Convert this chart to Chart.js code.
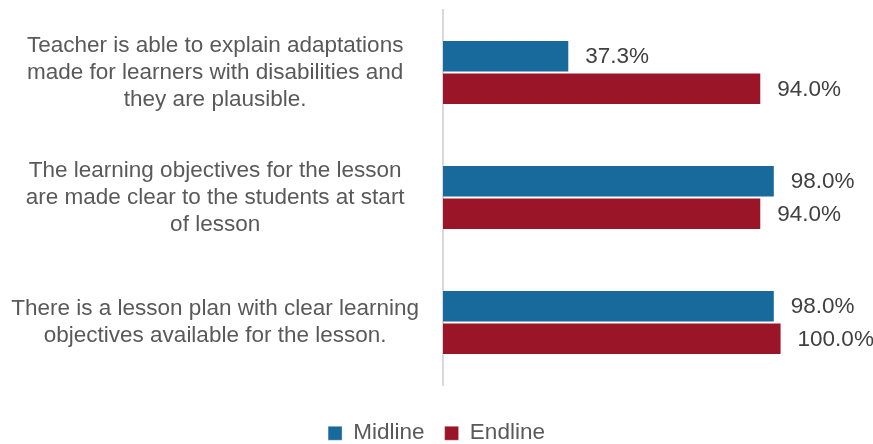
<!DOCTYPE html>
<html>
<head>
<meta charset="utf-8">
<script src="https://cdn.jsdelivr.net/npm/chart.js@4"></script>
<style>
  html, body { margin: 0; padding: 0; background: #fff; }
  #wrap { width: 873px; height: 444px; }
</style>
</head>
<body>
<div id="wrap"><canvas id="indicatorChart"></canvas></div>
<script>
const categories = [
    ['Teacher is able to explain adaptations', 'made for learners with disabilities and', 'they are plausible.'],
    ['The learning objectives for the lesson', 'are made clear to the students at start', 'of lesson'],
    ['There is a lesson plan with clear learning', 'objectives available for the lesson.']
];
const midline = [37.3, 98.0, 98.0];
const endline = [94.0, 94.0, 100.0];

const FONT = '"Liberation Sans", Arial, sans-serif';
const SIZE = 22.5;

// writes the percentage just past the end of every bar
const valueLabels = {
    id: 'valueLabels',
    afterDatasetsDraw(chart) {
        const ctx = chart.ctx;
        ctx.save();
        ctx.font = SIZE + 'px ' + FONT;
        ctx.fillStyle = '#404040';
        ctx.textAlign = 'left';
        ctx.textBaseline = 'middle';
        chart.data.datasets.forEach((ds, i) => {
            chart.getDatasetMeta(i).data.forEach((bar, j) => {
                ctx.fillText(ds.data[j].toFixed(1) + '%', bar.x + 16, bar.y + 1);
            });
        });
        ctx.restore();
    }
};

// keeps the legend row low, close to the bottom edge
const legendHeight = {
    id: 'legendHeight',
    afterInit(chart) {
        const fit = chart.legend.fit;
        chart.legend.fit = function () {
            fit.call(this);
            this.height = 42;
        };
    }
};

const ctx = document.getElementById('indicatorChart').getContext('2d');
new Chart(ctx, {
    type: 'bar',
    data: {
        labels: categories,
        datasets: [{
            label: 'Midline',
            data: midline,
            backgroundColor: '#176a9b',
            borderColor: 'rgba(255,255,255,0.35)',
            borderWidth: 1,
            barPercentage: 1,
            categoryPercentage: 0.52
        }, {
            label: 'Endline',
            data: endline,
            backgroundColor: '#9b1528',
            borderColor: 'rgba(255,255,255,0.35)',
            borderWidth: 1,
            barPercentage: 1,
            categoryPercentage: 0.52
        }]
    },
    options: {
        indexAxis: 'y',
        responsive: true,
        maintainAspectRatio: false,
        animation: false,
        layout: { padding: { top: 10, right: 0, bottom: 0, left: 0 } },
        scales: {
            x: {
                min: 0,
                max: 127,
                grid: { display: false },
                border: { display: false },
                ticks: { display: false },
                afterFit(scale) { scale.height = 17; }
            },
            y: {
                grid: { display: false },
                border: { display: true, color: '#d9d9d9', width: 2 },
                ticks: {
                    crossAlign: 'center',
                    padding: 16,
                    color: '#595959',
                    font: { family: FONT, size: SIZE, lineHeight: 1.2 }
                },
                afterFit(scale) {
                    scale.width = 443;
                    scale.paddingTop = 0;
                    scale.paddingBottom = 0;
                }
            }
        },
        plugins: {
            tooltip: { enabled: false },
            legend: {
                position: 'bottom',
                labels: {
                    boxWidth: 14,
                    boxHeight: 14,
                    padding: 20,
                    color: '#595959',
                    font: { family: FONT, size: SIZE }
                }
            }
        }
    },
    plugins: [valueLabels, legendHeight]
});
</script>
</body>
</html>
